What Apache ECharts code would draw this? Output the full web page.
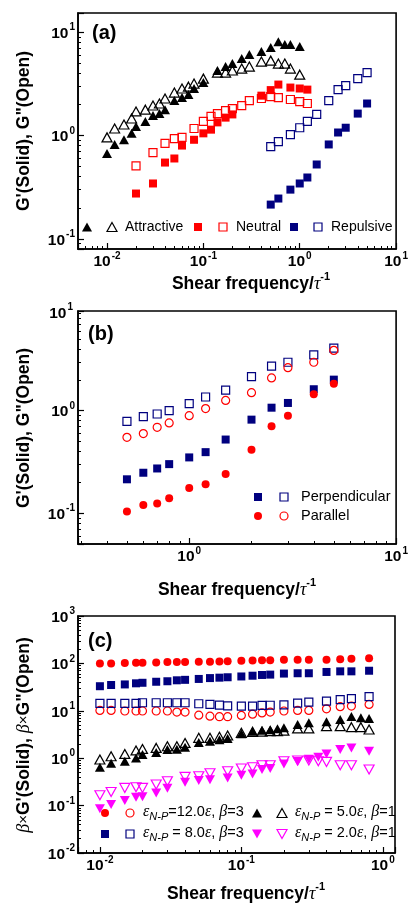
<!DOCTYPE html>
<html><head><meta charset="utf-8">
<script src="https://cdn.jsdelivr.net/npm/echarts@6/dist/echarts.min.js"></script>
<style>html,body{margin:0;padding:0;background:#fff}#c{width:411px;height:903px}</style>
</head><body><div id="c"></div>
<script>
// ---------- Panel (a) ----------
const aAttrX  = [0.01,0.012,0.015,0.018,0.02,0.025,0.03,0.035,0.04,0.05,0.06,0.07,0.08,0.1,0.14,0.17,0.2,0.25,0.3,0.4,0.5,0.6,0.7,0.8,1.0];
const aAttrG1 = [0.67,0.82,0.91,1.05,1.22,1.37,1.56,1.63,1.78,2.18,2.33,2.49,2.85,3.25,4.25,4.64,4.96,5.55,6.06,6.48,7.08,8.09,7.57,7.57,7.24];
const aAttrG2 = [0.96,1.17,1.28,1.46,1.71,1.78,1.95,2.04,2.28,2.6,2.85,2.97,3.18,3.55,4.06,4.06,4.25,4.44,4.64,5.19,5.3,4.96,4.96,4.44,3.88];
const aNeuX1  = [0.02,0.03,0.04,0.05,0.06,0.08,0.1,0.12,0.14,0.17,0.2,0.4,0.5,0.6,0.8,1.0,1.2];
const aNeuG1  = [0.275,0.344,0.548,0.6,0.8,0.91,1.05,1.14,1.34,1.49,1.6,2.43,2.75,3.11,2.91,2.85,2.78];
const aNeuX2  = [0.02,0.03,0.04,0.05,0.06,0.08,0.1,0.12,0.14,0.17,0.2,0.25,0.3,0.4,0.5,0.6,0.8,1.0,1.2];
const aNeuG2  = [0.51,0.685,0.84,0.935,0.96,1.17,1.37,1.53,1.63,1.74,1.82,1.95,2.18,2.28,2.38,2.33,2.23,2.13,2.04];
const aRepX   = [0.5,0.6,0.8,1.0,1.2,1.5,2.0,2.5,3.0,4.0,5.0];
const aRepG1  = [0.215,0.246,0.3,0.344,0.393,0.525,0.82,1.07,1.19,1.63,2.04];
const aRepG2  = [0.78,0.875,1.02,1.19,1.37,1.6,2.18,2.78,3.04,3.55,4.06];
// ---------- Panel (b) ----------
const bX       = [0.5,0.6,0.7,0.8,1.0,1.2,1.5,2.0,2.5,3.0,4.0,5.0];
const bPerpG1  = [0.214,0.248,0.273,0.301,0.35,0.394,0.523,0.818,1.07,1.19,1.62,2.01];
const bPerpG2  = [0.787,0.875,0.929,1.0,1.17,1.36,1.59,2.15,2.72,2.97,3.5,4.09];
const bParaG1  = [0.104,0.12,0.124,0.14,0.176,0.191,0.241,0.415,0.705,0.894,1.45,1.83];
const bParaG2  = [0.55,0.598,0.689,0.76,0.894,1.05,1.26,1.5,2.09,2.63,2.97,3.88];
// ---------- Panel (c) ----------
const cX    = [0.01,0.012,0.015,0.018,0.02,0.025,0.03,0.035,0.04,0.05,0.06,0.07,0.08,0.1,0.12,0.14,0.16,0.2,0.25,0.3,0.4,0.5,0.6,0.8];
const c12G1 = [100,100,102,103,103,105,107,107,107,108,109,110,111,114,115,116,117,119,120,120,120,123,126,128];
const c12G2 = [10.2,10.2,9.9,9.9,9.9,9.9,9.9,9.4,9.4,8.1,7.7,7.5,7.5,8.0,8.5,9.0,9.4,9.9,10.2,10.2,11,12.2,12.6,13.6];
const c8G1  = [33,35,36,38,39,41,42,44,45,47,49,50,51,53,55,57,58,61,62,62,66,68,68,70];
const c8G2  = [14.3,14.3,14.3,14.3,14.8,14.8,14.8,14.8,14.8,14.1,13.6,13.2,12.7,12.5,12.6,13,13.1,13.3,14.5,15.2,16,17.2,18.1,20];
const c5X   = [0.01,0.012,0.015,0.018,0.02,0.025,0.03,0.035,0.04,0.05,0.06,0.07,0.08,0.1,0.12,0.14,0.16,0.18,0.2,0.25,0.3,0.4,0.5,0.6,0.7,0.8];
const c5G1  = [0.645,0.78,0.86,1.01,1.2,1.32,1.53,1.55,1.71,2.15,2.29,2.44,2.61,3.27,3.72,3.91,4.0,4.2,4.4,5.15,5.57,5.85,6.58,7.54,7.11,6.9];
const c5G2  = [0.94,1.1,1.23,1.46,1.57,1.65,1.79,1.79,2.1,2.69,2.69,2.82,3.02,3.43,3.6,3.63,3.72,3.72,3.81,4.25,4.25,4.75,4.75,4.52,4.52,4.04];
const c2X   = [0.01,0.012,0.015,0.018,0.02,0.025,0.03,0.04,0.05,0.06,0.08,0.1,0.12,0.14,0.16,0.2,0.25,0.3,0.35,0.4,0.5,0.6,0.8];
const c2G1  = [0.086,0.106,0.128,0.15,0.153,0.185,0.232,0.311,0.338,0.351,0.383,0.437,0.466,0.577,0.606,0.758,0.85,0.95,1.05,1.23,1.53,1.65,1.41];
const c2G2  = [0.165,0.194,0.236,0.244,0.236,0.278,0.327,0.403,0.416,0.482,0.531,0.606,0.645,0.711,0.711,0.864,0.894,0.894,0.864,0.835,0.711,0.711,0.577];
// axis ranges
const xRanges = [[0.005,10],[0.29,10],[0.007,1.22]];
const yRanges = [[0.08,15.3],[0.05,9.4],[0.01,1000]];
const panelLabels = ['(a)','(b)','(c)'];
const xTitle = 'Shear frequency/';
const legendA = ['Attractive','Neutral','Repulsive'];
const legendB = ['Perpendicular','Parallel'];

const FONT = '"Liberation Sans", Arial, sans-serif';
const SERIF = '"Liberation Serif", "Times New Roman", serif';
const RED = '#ff0000', NAVY = '#00007f', BLK = '#000000', MAG = '#ff00ff';

const grids = [
  {left:78, top:13, width:319, height:236},
  {left:78, top:311, width:319, height:233},
  {left:78, top:616, width:317, height:237}
];

function powLabel(v){
  const l = Math.log10(v), e = Math.round(l);
  if (Math.abs(l - e) > 1e-6) return '';
  return '{b|10}{s|' + e + '}';
}
const labelRich = {
  b:{fontSize:15.5, fontWeight:'bold', fontFamily:FONT, color:'#000', lineHeight:19, verticalAlign:'bottom'},
  s:{fontSize:10, fontWeight:'bold', fontFamily:FONT, color:'#000', lineHeight:10, verticalAlign:'top', padding:[0,0,0,1]}
};
function minorLogs(min,max){
  const out=[];
  for(let e=Math.floor(Math.log10(min)); e<=Math.ceil(Math.log10(max)); e++){
    for(let k=2;k<=9;k++){
      const v=k*Math.pow(10,e);
      if(v>min*1.0001 && v<max*0.9999) out.push(Math.log10(v));
    }
  }
  return out;
}
const xAxes=[], yAxes=[];
for(let i=0;i<3;i++){
  xAxes.push({type:'log', logBase:10, gridIndex:i, position:'bottom', min:xRanges[i][0], max:xRanges[i][1],
    axisLine:{show:true, onZero:false, lineStyle:{color:'#000', width:1.6}},
    axisTick:{show:true, inside:true, length:6, lineStyle:{color:'#000', width:1.2}},
    axisLabel:{formatter:powLabel, rich:labelRich, margin:2, color:'#000'},
    splitLine:{show:false}});
  yAxes.push({type:'log', logBase:10, gridIndex:i, position:'left', min:yRanges[i][0], max:yRanges[i][1],
    axisLine:{show:true, onZero:false, lineStyle:{color:'#000', width:1.6}},
    axisTick:{show:true, inside:true, length:6, lineStyle:{color:'#000', width:1.2}},
    axisLabel:{formatter:powLabel, rich:labelRich, margin:3, color:'#000'},
    splitLine:{show:false}});
}
for(let i=0;i<3;i++){
  xAxes.push({type:'value', gridIndex:i, position:'bottom', min:Math.log10(xRanges[i][0]), max:Math.log10(xRanges[i][1]),
    axisLine:{show:false, onZero:false}, axisLabel:{show:false}, splitLine:{show:false},
    axisTick:{show:true, inside:true, length:3, customValues:minorLogs(xRanges[i][0],xRanges[i][1]), lineStyle:{color:'#000', width:1}}});
  yAxes.push({type:'value', gridIndex:i, position:'left', min:Math.log10(yRanges[i][0]), max:Math.log10(yRanges[i][1]),
    axisLine:{show:false, onZero:false}, axisLabel:{show:false}, splitLine:{show:false},
    axisTick:{show:true, inside:true, length:3, customValues:minorLogs(yRanges[i][0],yRanges[i][1]), lineStyle:{color:'#000', width:1}}});
}

function zip(xs,ys){ return xs.map((x,i)=>[x,ys[i]]); }
function ser(g, xs, ys, symbol, color, open, size, rotate){
  return {type:'scatter', xAxisIndex:g, yAxisIndex:g, data:zip(xs,ys), symbol:symbol,
    symbolSize:size, symbolRotate:rotate||0, silent:true,
    itemStyle: open ? {color:'rgba(0,0,0,0)', borderColor:color, borderWidth:1.2, opacity:1}
                    : {color:color, borderWidth:0, opacity:1}};
}
const TRI=[10,9], SQ=8, CI=8;
const series = [
  ser(0,aAttrX,aAttrG2,'triangle',BLK,true,TRI),
  ser(0,aAttrX,aAttrG1,'triangle',BLK,false,TRI),
  ser(0,aNeuX2,aNeuG2,'rect',RED,true,SQ),
  ser(0,aNeuX1,aNeuG1,'rect',RED,false,SQ),
  ser(0,aRepX,aRepG2,'rect',NAVY,true,SQ),
  ser(0,aRepX,aRepG1,'rect',NAVY,false,SQ),
  ser(1,bX,bPerpG2,'rect',NAVY,true,SQ),
  ser(1,bX,bPerpG1,'rect',NAVY,false,SQ),
  ser(1,bX,bParaG2,'circle',RED,true,CI),
  ser(1,bX,bParaG1,'circle',RED,false,CI),
  ser(2,cX,c12G1,'circle',RED,false,CI),
  ser(2,cX,c12G2,'circle',RED,true,CI),
  ser(2,cX,c8G1,'rect',NAVY,false,SQ),
  ser(2,cX,c8G2,'rect',NAVY,true,SQ),
  ser(2,c5X,c5G1,'triangle',BLK,false,TRI),
  ser(2,c5X,c5G2,'triangle',BLK,true,TRI),
  ser(2,c2X,c2G1,'triangle',MAG,false,TRI,180),
  ser(2,c2X,c2G2,'triangle',MAG,true,TRI,180)
];

// ---------- graphic: titles, legends ----------
const G = [];
function mk(type, cx, cy, color, open, down){
  const st = open ? {fill:'none', stroke:color, lineWidth:1.2} : {fill:color, stroke:null};
  if(type==='tri'){
    const w=10,h=9, s = down?-1:1;
    G.push({type:'polygon', shape:{points:[[cx,cy-s*h/2],[cx+w/2,cy+s*h/2],[cx-w/2,cy+s*h/2]]}, style:st, silent:true});
  } else if(type==='sq'){
    G.push({type:'rect', shape:{x:cx-4,y:cy-4,width:8,height:8}, style:st, silent:true});
  } else {
    G.push({type:'circle', shape:{cx:cx,cy:cy,r:4}, style:st, silent:true});
  }
}
function txt(x,y,text,opt){
  G.push(Object.assign({type:'text', x:x, y:y, silent:true,
    style:Object.assign({text:text, fill:'#000', font:'14px '+FONT, align:'left', verticalAlign:'middle'}, opt.style||{})}, opt.el||{}));
}
// panel labels
txt(92,33,panelLabels[0],{style:{font:'bold 20px '+FONT}});
txt(88,334,panelLabels[1],{style:{font:'bold 20px '+FONT}});
txt(88,641,panelLabels[2],{style:{font:'bold 20px '+FONT}});
// x titles
const xtRich = {
  t:{fontSize:17.5, fontWeight:'bold', fontFamily:FONT, lineHeight:22, verticalAlign:'bottom'},
  i:{fontSize:18, fontStyle:'italic', fontFamily:SERIF, lineHeight:22, verticalAlign:'bottom'},
  s:{fontSize:11, fontWeight:'bold', fontFamily:FONT, lineHeight:11, verticalAlign:'top'}
};
const xtText = '{t|'+xTitle+'}{i|τ}{s|-1}';
txt(251,282,xtText,{style:{rich:xtRich, align:'center'}});
txt(237,588,xtText,{style:{rich:xtRich, align:'center'}});
txt(246,892,xtText,{style:{rich:xtRich, align:'center'}});
// y titles
const ytRich = {
  t:{fontSize:17.5, fontWeight:'bold', fontFamily:FONT},
  bi:{fontSize:18, fontStyle:'italic', fontFamily:SERIF},
  x:{fontSize:15, fontFamily:FONT}
};
txt(24,131,'{t|G\'(Solid), G"(Open)}',{style:{rich:ytRich, align:'center'}, el:{rotation:Math.PI/2}});
txt(24,428,'{t|G\'(Solid), G"(Open)}',{style:{rich:ytRich, align:'center'}, el:{rotation:Math.PI/2}});
txt(24,735,'{bi|β}{x|×}{t|G\'(Solid), }{bi|β}{x|×}{t|G"(Open)}',{style:{rich:ytRich, align:'center'}, el:{rotation:Math.PI/2}});
// clipped top label of (b)
txt(73,312,'{b|10}{s|1}',{style:{rich:labelRich, align:'right'}});
// legend (a)
mk('tri',87,227,BLK,false); mk('tri',112,227,BLK,true); txt(125,227,legendA[0],{});
mk('sq',198,227,RED,false); mk('sq',223,227,RED,true); txt(236,227,legendA[1],{});
mk('sq',294,227,NAVY,false); mk('sq',318,227,NAVY,true); txt(331,227,legendA[2],{});
// legend (b)
mk('sq',258,497,NAVY,false); mk('sq',284,497,NAVY,true); txt(301,497,legendB[0],{style:{font:'14.5px '+FONT}});
mk('ci',258,516,RED,false); mk('ci',284,516,RED,true); txt(301,516,legendB[1],{style:{font:'14.5px '+FONT}});
// legend (c)
const lgRich = {
  t:{fontSize:14.5, fontFamily:FONT, lineHeight:18, verticalAlign:'top'},
  e:{fontSize:16, fontStyle:'italic', fontFamily:SERIF, lineHeight:18, verticalAlign:'top'},
  sub:{fontSize:11, fontStyle:'italic', fontFamily:FONT, lineHeight:11, verticalAlign:'bottom'}
};
function epsText(a,b,sp){ return '{e|ε}{sub|N-P}{t|'+(sp?' = ':'=')+a+'}{e|ε}{t|, }{e|β}{t|='+b+'}'; }
mk('ci',105,813,RED,false); mk('ci',130,813,RED,true); txt(143,813,epsText('12.0','3',false),{style:{rich:lgRich}});
mk('tri',257,813,BLK,false); mk('tri',282,813,BLK,true); txt(295,813,epsText('5.0','1',true),{style:{rich:lgRich}});
mk('sq',105,834,NAVY,false); mk('sq',130,834,NAVY,true); txt(143,834,epsText('8.0','3',true),{style:{rich:lgRich}});
mk('tri',257,834,MAG,false,true); mk('tri',282,834,MAG,true,true); txt(295,834,epsText('2.0','1',true),{style:{rich:lgRich}});

const chart = echarts.init(document.getElementById('c'), null, {renderer:'canvas'});
chart.setOption({
  animation:false,
  backgroundColor:'#fff',
  grid: grids.map(g=>Object.assign({show:true, borderColor:'#000', borderWidth:1.6, backgroundColor:'rgba(0,0,0,0)', containLabel:false}, g)),
  xAxis:xAxes, yAxis:yAxes, series:series, graphic:G
});
</script></body></html>
